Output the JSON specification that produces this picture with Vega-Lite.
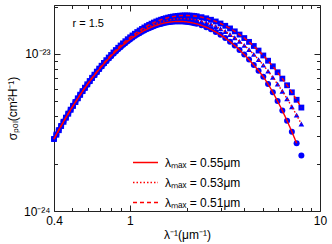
{
  "$schema": "https://vega.github.io/schema/vega-lite/v6.json",
  "width": 266,
  "height": 206,
  "autosize": {"type": "none"},
  "padding": {"left": 54, "top": 5, "right": 12, "bottom": 33},
  "config": {
    "font": "Liberation Sans",
    "view": {"stroke": null},
    "axis": {
      "domainColor": "#222",
      "tickColor": "#222",
      "grid": false,
      "labelFont": "Liberation Sans",
      "labelFontSize": 12,
      "labelColor": "#000",
      "titleFont": "Liberation Sans",
      "titleFontSize": 12,
      "titleFontWeight": "normal",
      "titleColor": "#000",
      "labelFlush": false,
      "labelOverlap": false
    }
  },
  "data": {
    "values": [
      {"x": 0.4, "l055": 2.882e-24, "l053": 2.869e-24, "l051": 2.874e-24},
      {"x": 0.4117, "l055": 3.075e-24, "l053": 3.061e-24, "l051": 3.067e-24},
      {"x": 0.4237, "l055": 3.277e-24, "l053": 3.263e-24, "l051": 3.269e-24},
      {"x": 0.4361, "l055": 3.487e-24, "l053": 3.473e-24, "l051": 3.479e-24},
      {"x": 0.4488, "l055": 3.708e-24, "l053": 3.694e-24, "l051": 3.701e-24},
      {"x": 0.4619, "l055": 3.936e-24, "l053": 3.922e-24, "l051": 3.931e-24},
      {"x": 0.4754, "l055": 4.174e-24, "l053": 4.159e-24, "l051": 4.170e-24},
      {"x": 0.4893, "l055": 4.419e-24, "l053": 4.406e-24, "l051": 4.418e-24},
      {"x": 0.5036, "l055": 4.674e-24, "l053": 4.662e-24, "l051": 4.676e-24},
      {"x": 0.5183, "l055": 4.938e-24, "l053": 4.926e-24, "l051": 4.941e-24},
      {"x": 0.5334, "l055": 5.211e-24, "l053": 5.200e-24, "l051": 5.219e-24},
      {"x": 0.549, "l055": 5.490e-24, "l053": 5.481e-24, "l051": 5.503e-24},
      {"x": 0.565, "l055": 5.778e-24, "l053": 5.771e-24, "l051": 5.797e-24},
      {"x": 0.5815, "l055": 6.074e-24, "l053": 6.071e-24, "l051": 6.099e-24},
      {"x": 0.5985, "l055": 6.376e-24, "l053": 6.376e-24, "l051": 6.409e-24},
      {"x": 0.616, "l055": 6.686e-24, "l053": 6.689e-24, "l051": 6.726e-24},
      {"x": 0.634, "l055": 7.001e-24, "l053": 7.008e-24, "l051": 7.050e-24},
      {"x": 0.6525, "l055": 7.321e-24, "l053": 7.333e-24, "l051": 7.381e-24},
      {"x": 0.6715, "l055": 7.650e-24, "l053": 7.667e-24, "l051": 7.720e-24},
      {"x": 0.6911, "l055": 7.980e-24, "l053": 8.004e-24, "l051": 8.065e-24},
      {"x": 0.7113, "l055": 8.317e-24, "l053": 8.347e-24, "l051": 8.414e-24},
      {"x": 0.7321, "l055": 8.658e-24, "l053": 8.694e-24, "l051": 8.770e-24},
      {"x": 0.7535, "l055": 8.997e-24, "l053": 9.041e-24, "l051": 9.128e-24},
      {"x": 0.7755, "l055": 9.340e-24, "l053": 9.394e-24, "l051": 9.489e-24},
      {"x": 0.7981, "l055": 9.683e-24, "l053": 9.748e-24, "l051": 9.851e-24},
      {"x": 0.8214, "l055": 1.003e-23, "l053": 1.010e-23, "l051": 1.022e-23},
      {"x": 0.8454, "l055": 1.037e-23, "l053": 1.046e-23, "l051": 1.059e-23},
      {"x": 0.8701, "l055": 1.071e-23, "l053": 1.081e-23, "l051": 1.095e-23},
      {"x": 0.8955, "l055": 1.105e-23, "l053": 1.116e-23, "l051": 1.132e-23},
      {"x": 0.9216, "l055": 1.139e-23, "l053": 1.151e-23, "l051": 1.168e-23},
      {"x": 0.9486, "l055": 1.172e-23, "l053": 1.186e-23, "l051": 1.205e-23},
      {"x": 0.9762, "l055": 1.205e-23, "l053": 1.220e-23, "l051": 1.241e-23},
      {"x": 1.005, "l055": 1.237e-23, "l053": 1.254e-23, "l051": 1.276e-23},
      {"x": 1.034, "l055": 1.268e-23, "l053": 1.287e-23, "l051": 1.311e-23},
      {"x": 1.064, "l055": 1.299e-23, "l053": 1.319e-23, "l051": 1.345e-23},
      {"x": 1.095, "l055": 1.329e-23, "l053": 1.351e-23, "l051": 1.379e-23},
      {"x": 1.127, "l055": 1.357e-23, "l053": 1.381e-23, "l051": 1.411e-23},
      {"x": 1.16, "l055": 1.384e-23, "l053": 1.411e-23, "l051": 1.443e-23},
      {"x": 1.194, "l055": 1.411e-23, "l053": 1.439e-23, "l051": 1.474e-23},
      {"x": 1.229, "l055": 1.435e-23, "l053": 1.467e-23, "l051": 1.504e-23},
      {"x": 1.265, "l055": 1.459e-23, "l053": 1.493e-23, "l051": 1.532e-23},
      {"x": 1.302, "l055": 1.481e-23, "l053": 1.517e-23, "l051": 1.559e-23},
      {"x": 1.34, "l055": 1.502e-23, "l053": 1.540e-23, "l051": 1.585e-23},
      {"x": 1.379, "l055": 1.521e-23, "l053": 1.562e-23, "l051": 1.609e-23},
      {"x": 1.419, "l055": 1.538e-23, "l053": 1.582e-23, "l051": 1.632e-23},
      {"x": 1.461, "l055": 1.554e-23, "l053": 1.600e-23, "l051": 1.652e-23},
      {"x": 1.503, "l055": 1.568e-23, "l053": 1.616e-23, "l051": 1.671e-23},
      {"x": 1.547, "l055": 1.580e-23, "l053": 1.631e-23, "l051": 1.688e-23},
      {"x": 1.592, "l055": 1.590e-23, "l053": 1.644e-23, "l051": 1.704e-23},
      {"x": 1.639, "l055": 1.598e-23, "l053": 1.654e-23, "l051": 1.718e-23},
      {"x": 1.687, "l055": 1.604e-23, "l053": 1.663e-23, "l051": 1.729e-23},
      {"x": 1.736, "l055": 1.608e-23, "l053": 1.671e-23, "l051": 1.739e-23},
      {"x": 1.787, "l055": 1.610e-23, "l053": 1.675e-23, "l051": 1.747e-23},
      {"x": 1.839, "l055": 1.611e-23, "l053": 1.678e-23, "l051": 1.753e-23},
      {"x": 1.893, "l055": 1.609e-23, "l053": 1.679e-23, "l051": 1.756e-23},
      {"x": 1.948, "l055": 1.605e-23, "l053": 1.678e-23, "l051": 1.758e-23},
      {"x": 2.005, "l055": 1.599e-23, "l053": 1.674e-23, "l051": 1.758e-23},
      {"x": 2.063, "l055": 1.591e-23, "l053": 1.670e-23, "l051": 1.755e-23},
      {"x": 2.124, "l055": 1.581e-23, "l053": 1.663e-23, "l051": 1.751e-23},
      {"x": 2.185, "l055": 1.569e-23, "l053": 1.654e-23, "l051": 1.745e-23},
      {"x": 2.249, "l055": 1.555e-23, "l053": 1.643e-23, "l051": 1.737e-23},
      {"x": 2.383, "l055": 1.521e-23, "l053": 1.617e-23, "l051": 1.715e-23},
      {"x": 2.524, "l055": 1.481e-23, "l053": 1.583e-23, "l051": 1.687e-23},
      {"x": 2.673, "l055": 1.434e-23, "l053": 1.543e-23, "l051": 1.651e-23},
      {"x": 2.832, "l055": 1.382e-23, "l053": 1.497e-23, "l051": 1.610e-23},
      {"x": 3.0, "l055": 1.324e-23, "l053": 1.446e-23, "l051": 1.563e-23},
      {"x": 3.177, "l055": 1.263e-23, "l053": 1.390e-23, "l051": 1.511e-23},
      {"x": 3.366, "l055": 1.198e-23, "l053": 1.330e-23, "l051": 1.454e-23},
      {"x": 3.565, "l055": 1.130e-23, "l053": 1.268e-23, "l051": 1.393e-23},
      {"x": 3.776, "l055": 1.061e-23, "l053": 1.202e-23, "l051": 1.329e-23},
      {"x": 4.0, "l055": 9.908e-24, "l053": 1.134e-23, "l051": 1.263e-23},
      {"x": 4.237, "l055": 9.204e-24, "l053": 1.066e-23, "l051": 1.194e-23},
      {"x": 4.488, "l055": 8.508e-24, "l053": 9.933e-24, "l051": 1.124e-23},
      {"x": 4.754, "l055": 7.825e-24, "l053": 9.209e-24, "l051": 1.051e-23},
      {"x": 5.036, "l055": 7.157e-24, "l053": 8.488e-24, "l051": 9.779e-24},
      {"x": 5.334, "l055": 6.434e-24, "l053": 7.780e-24, "l051": 9.056e-24},
      {"x": 5.65, "l055": 5.705e-24, "l053": 7.091e-24, "l051": 8.341e-24},
      {"x": 5.985, "l055": 5.011e-24, "l053": 6.427e-24, "l051": 7.645e-24},
      {"x": 6.34, "l055": 4.358e-24, "l053": 5.787e-24, "l051": 6.966e-24},
      {"x": 6.715, "l055": 3.754e-24, "l053": 5.181e-24, "l051": 6.318e-24},
      {"x": 7.113, "l055": 3.201e-24, "l053": 4.610e-24, "l051": 5.697e-24},
      {"x": 7.535, "l055": 2.701e-24, "l053": 4.077e-24, "l051": 5.108e-24},
      {"x": 7.981, "l055": 2.254e-24, "l053": 3.584e-24, "l051": 4.556e-24}
    ]
  },
  "layer": [
    {
      "transform": [{"fold": ["l055", "l053", "l051"], "as": ["series", "sigma"]}],
      "mark": {"type": "point", "filled": true, "color": "#0000ff", "opacity": 1},
      "encoding": {
        "x": {
          "field": "x", "type": "quantitative",
          "scale": {"type": "log", "domain": [0.4, 10]},
          "axis": {
            "orient": "bottom",
            "values": [0.4, 0.5, 0.6, 0.7, 0.8, 0.9, 1, 2, 3, 4, 5, 6, 7, 8, 9, 10],
            "labelExpr": "datum.value == 0.4 ? '0.4' : datum.value == 1 ? '1' : datum.value == 10 ? '10' : ''",
            "tickSize": {"condition": {"test": "datum.value == 1 || datum.value == 10 || datum.value == 0.4", "value": -6}, "value": -3.5},
            "labelPadding": 10,
            "title": "λ⁻¹(μm⁻¹)",
            "titleY": 23,
            "titleBaseline": "middle"
          }
        },
        "y": {
          "field": "sigma", "type": "quantitative",
          "scale": {"type": "log", "domain": [1e-24, 2.05e-23]},
          "axis": {
            "orient": "left",
            "values": [1e-24, 2e-24, 3e-24, 4e-24, 5e-24, 6e-24, 7e-24, 8e-24, 9e-24, 1e-23, 2e-23],
            "labelExpr": "datum.value == 1e-23 ? '10⁻²³' : datum.value == 1e-24 ? '10⁻²⁴' : ''",
            "tickSize": {"condition": {"test": "datum.value == 1e-23 || datum.value == 1e-24", "value": -6}, "value": -3.5},
            "labelPadding": 10,
            "labelFontSize": 12,
            "title": "σₚₒₗ(cm²H⁻¹)",
            "titleX": -42,
            "titleY": 103,
            "titleBaseline": "middle"
          }
        },
        "shape": {
          "field": "series", "type": "nominal",
          "scale": {"domain": ["l051", "l053", "l055"], "range": ["square", "triangle-up", "circle"]},
          "legend": null
        },
        "size": {
          "field": "series", "type": "nominal",
          "scale": {"domain": ["l053", "l051", "l055"], "range": [32, 36, 26]},
          "legend": null
        }
      }
    },
    {
      "transform": [
        {"fold": ["l055", "l053", "l051"], "as": ["lmax", "lsigma"]},
        {"filter": "datum.lmax != 'l055' || datum.x < 7.9"}
      ],
      "mark": {"type": "line", "color": "#ff0000", "strokeWidth": 1.4},
      "encoding": {
        "x": {
          "field": "x", "type": "quantitative",
          "scale": {"type": "log", "domain": [0.4, 10]},
          "axis": {
            "orient": "top",
            "values": [0.4, 0.5, 0.6, 0.7, 0.8, 0.9, 1, 2, 3, 4, 5, 6, 7, 8, 9, 10],
            "labels": false,
            "tickSize": {"condition": {"test": "datum.value == 1 || datum.value == 10 || datum.value == 0.4", "value": -6}, "value": -3.5},
            "title": null
          }
        },
        "y": {
          "field": "lsigma", "type": "quantitative",
          "scale": {"type": "log", "domain": [1e-24, 2.05e-23]},
          "axis": {
            "orient": "right",
            "values": [1e-24, 2e-24, 3e-24, 4e-24, 5e-24, 6e-24, 7e-24, 8e-24, 9e-24, 1e-23, 2e-23],
            "labels": false,
            "tickSize": {"condition": {"test": "datum.value == 1e-23 || datum.value == 1e-24", "value": -6}, "value": -3.5},
            "title": null
          }
        },
        "strokeDash": {
          "field": "lmax", "type": "nominal",
          "scale": {"domain": ["l055", "l053", "l051"], "range": [[1, 0], [1.5, 2], [4, 3]]},
          "legend": {
            "orient": "none",
            "legendX": 78,
            "legendY": 144,
            "title": null,
            "padding": 0,
            "symbolType": "stroke",
            "symbolSize": 625,
            "symbolStrokeWidth": 1.4,
            "symbolStrokeColor": "#ff0000",
            "labelFont": "Liberation Sans",
            "labelFontSize": 12,
            "labelColor": "#000",
            "labelOffset": 6,
            "rowPadding": -8,
            "labelExpr": "datum.label == 'l055' ? 'λₘₐₓ = 0.55μm' : datum.label == 'l053' ? 'λₘₐₓ = 0.53μm' : 'λₘₐₓ = 0.51μm'"
          }
        }
      }
    },
    {
      "data": {"values": [{"px": 0.5, "py": 1.55e-23, "t": "r = 1.5"}]},
      "mark": {"type": "text", "align": "left", "baseline": "middle", "fontSize": 11, "font": "Liberation Sans", "color": "#000"},
      "encoding": {
        "x": {"field": "px", "type": "quantitative", "scale": {"type": "log", "domain": [0.4, 10]}, "axis": null},
        "y": {"field": "py", "type": "quantitative", "scale": {"type": "log", "domain": [1e-24, 2.05e-23]}, "axis": null},
        "text": {"field": "t"}
      }
    }
  ],
  "resolve": {"axis": {"x": "independent", "y": "independent"}}
}
